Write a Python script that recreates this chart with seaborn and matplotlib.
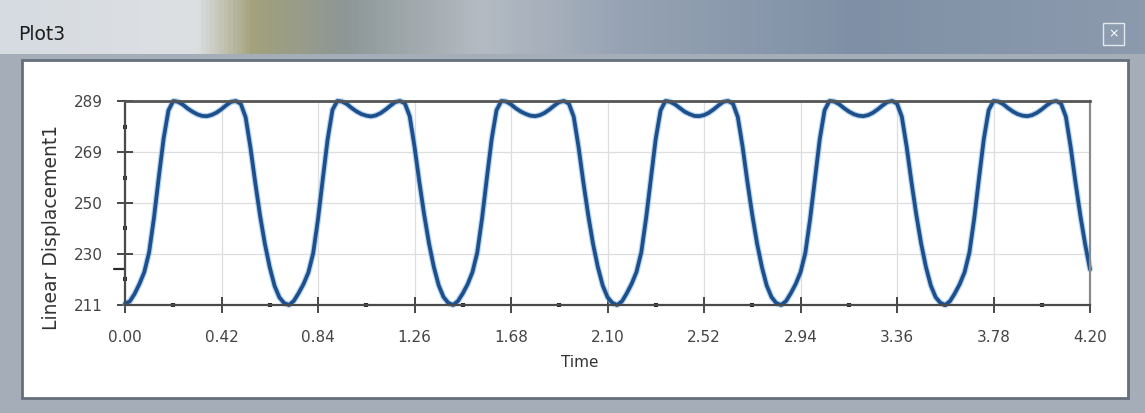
import numpy as np
import matplotlib
matplotlib.use("Agg")
import matplotlib.pyplot as plt
from matplotlib.patches import Rectangle
from matplotlib.colors import LinearSegmentedColormap
import seaborn as sns

# sampling instants, 0.021 s apart (0 .. 4.20 s)
time = np.linspace(0.0, 4.20, 201)

# Linear Displacement1, one row per cycle (~0.714 s)
disp_c1 = [211.5, 212.4, 215.3, 219.1, 223.6, 231.2, 244.3, 259.8, 274.6, 285.4, 289.0, 288.7,
           287.6, 286.1, 284.9, 283.9, 283.3, 283.2, 283.7, 284.6, 285.9, 287.4, 288.7, 289.0,
           287.9, 282.8, 271.2, 257.7, 245.1, 234.3, 225.4, 218.3, 213.9, 211.7]
disp_c2 = [211.0, 212.6, 215.6, 219.0, 223.4, 230.8, 243.8, 259.3, 274.4, 285.6, 289.0, 288.8,
           287.8, 286.3, 285.0, 284.0, 283.4, 283.1, 283.5, 284.4, 285.7, 287.2, 288.6, 289.0,
           288.1, 283.2, 271.6, 258.1, 245.6, 234.6, 225.6, 218.6, 214.1, 211.8]
disp_c3 = [211.0, 212.5, 215.4, 218.9, 223.5, 231.0, 244.1, 259.6, 274.5, 285.5, 289.0, 288.8,
           287.7, 286.2, 285.0, 284.1, 283.4, 283.2, 283.6, 284.5, 285.8, 287.3, 288.6, 289.0,
           288.0, 283.0, 271.4, 257.9, 245.4, 234.4, 225.5, 218.5, 214.0, 211.8]
disp_c4 = [211.0, 212.4, 215.5, 219.1, 223.6, 231.1, 244.2, 259.5, 274.6, 285.4, 289.0, 288.7,
           287.7, 286.3, 284.9, 284.0, 283.3, 283.2, 283.6, 284.5, 285.8, 287.3, 288.7, 289.0,
           288.0, 282.9, 271.5, 258.0, 245.5, 234.5, 225.5, 218.4, 214.0, 211.7]
disp_c5 = [211.0, 212.5, 215.5, 219.0, 223.5, 230.9, 244.0, 259.4, 274.5, 285.5, 289.0, 288.8,
           287.8, 286.3, 285.0, 284.0, 283.4, 283.2, 283.6, 284.5, 285.8, 287.3, 288.6, 289.0,
           288.0, 283.0, 271.5, 258.0, 245.5, 234.5, 225.5, 218.5, 214.0, 211.8]
disp_c6 = [211.0, 212.5, 215.5, 219.0, 223.5, 231.0, 244.0, 259.5, 274.5, 285.5, 289.0, 288.8,
           287.8, 286.3, 285.0, 284.0, 283.4, 283.2, 283.6, 284.5, 285.8, 287.3, 288.6, 289.0,
           288.0, 283.0, 271.3, 257.8, 245.2, 234.2, 224.6]
displacement = disp_c1 + disp_c2 + disp_c3 + disp_c4 + disp_c5 + disp_c6

x_ticks = [0.00, 0.42, 0.84, 1.26, 1.68, 2.10, 2.52, 2.94, 3.36, 3.78, 4.20]
x_labels = ["0.00", "0.42", "0.84", "1.26", "1.68", "2.10", "2.52", "2.94", "3.36", "3.78", "4.20"]
y_ticks = [211, 230.5, 250, 269.5, 289]
y_labels = ["211", "230", "250", "269", "289"]

W, H = 1145, 413

sns.set_style("white")
plt.rcParams["font.family"] = ["DejaVu Sans"]

fig = plt.figure(figsize=(W / 100, H / 100), dpi=100, facecolor="#a4adb8")

# window chrome: title bar gradient
bar = fig.add_axes([0, 1 - 54 / H, 1, 54 / H])
bar.axis("off")
bar_cmap = LinearSegmentedColormap.from_list("bar", [
    (0.00, "#d6dbe1"), (0.17, "#dde0e3"), (0.22, "#a3a27c"), (0.30, "#8d9796"),
    (0.42, "#b4bbc3"), (0.55, "#95a2b3"), (0.75, "#7f90a6"), (1.00, "#8c9aad")])
bar.imshow(np.linspace(0, 1, 256).reshape(1, -1), cmap=bar_cmap, aspect="auto",
           extent=[0, 1, 0, 1])
bar.set_xlim(0, 1)
bar.set_ylim(0, 1)
fig.text(18 / W, 1 - 34 / H, "Plot3", fontsize=13.5, color="#1c1c1c", va="center")
fig.patches.append(Rectangle((1103 / W, 1 - 45 / H), 21 / W, 22 / H, transform=fig.transFigure,
                             facecolor="#8e9cb0", edgecolor="#e4e9ef", lw=1.0))
fig.text(1113.5 / W, 1 - 34 / H, "\u00d7", fontsize=9, color="white", ha="center", va="center")

# white client panel (behind the plot axes)
fig.patches.append(Rectangle((22 / W, 1 - 398 / H), (1128 - 22) / W, (398 - 60) / H,
                             transform=fig.transFigure, facecolor="white",
                             edgecolor="#66707c", lw=2.0, zorder=-1))

ax = fig.add_axes([125 / W, 1 - 305 / H, (1090 - 125) / W, (305 - 101) / H])
ax.set_facecolor("white")

ax.grid(True, color="#dedede", lw=0.9)
ax.set_axisbelow(True)

sns.lineplot(x=time, y=displacement, ax=ax, color="#7fb2e0", lw=4.4, alpha=0.55,
             estimator=None, clip_on=False)
sns.lineplot(x=time, y=displacement, ax=ax, color="#1c4f8c", lw=2.7,
             estimator=None, clip_on=False)

ax.set_xlim(0, 4.20)
ax.set_ylim(211, 289)
ax.set_xticks(x_ticks)
ax.set_xticklabels(x_labels)
ax.set_yticks(y_ticks)
ax.set_yticklabels(y_labels)
ax.set_xticks([0.21 + 0.42 * i for i in range(10)], minor=True)
ax.set_yticks([220.75, 240.25, 259.75, 279.25], minor=True)

ax.tick_params(which="both", bottom=True, left=True, top=False, right=False)
ax.tick_params(axis="both", which="major", direction="inout", length=12, width=1.3,
               colors="#3a3a3a", labelsize=11, labelcolor="#444444")
ax.tick_params(axis="y", which="major", pad=10)
ax.tick_params(axis="x", which="major", pad=12)
ax.tick_params(axis="both", which="minor", direction="inout", length=3, width=3,
               colors="#2a2a2a")

for side in ["left", "bottom"]:
    ax.spines[side].set_color("#4a4a4a")
    ax.spines[side].set_linewidth(1.6)
ax.spines["top"].set_color("#555555")
ax.spines["top"].set_linewidth(2.0)
ax.spines["right"].set_color("#8a8a8a")
ax.spines["right"].set_linewidth(1.6)

# current-value marker on the y axis
ax.plot([-0.05, 0.0], [displacement[-1], displacement[-1]], color="#2a2a2a", lw=1.6,
        clip_on=False)

ax.set_xlabel("Time", fontsize=11, color="#333333")
ax.xaxis.set_label_coords(0.471, -0.245)
ax.set_ylabel("Linear Displacement1", fontsize=13.5, color="#333333")
ax.yaxis.set_label_coords(-0.066, 0.38)

fig.savefig("out.png", dpi=100, facecolor=fig.get_facecolor())
